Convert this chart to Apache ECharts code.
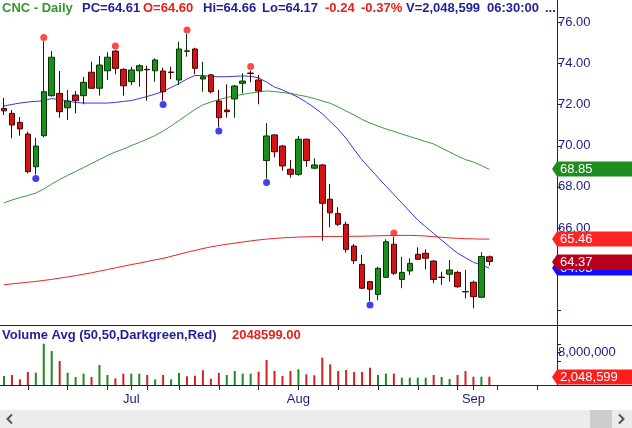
<!DOCTYPE html>
<html><head><meta charset="utf-8">
<script src="https://cdn.jsdelivr.net/npm/echarts@6/dist/echarts.min.js"></script>
<style>html,body{margin:0;padding:0;background:#fff;}#c{width:632px;height:428px;}</style>
</head><body><div id="c"></div>
<script>
// ---------- data ----------
const dates = [
 '2021-06-09','2021-06-10','2021-06-11','2021-06-14','2021-06-15','2021-06-16','2021-06-17','2021-06-18','2021-06-21','2021-06-22',
 '2021-06-23','2021-06-24','2021-06-25','2021-06-28','2021-06-29','2021-06-30','2021-07-01','2021-07-02','2021-07-06','2021-07-07',
 '2021-07-08','2021-07-09','2021-07-12','2021-07-13','2021-07-14','2021-07-15','2021-07-16','2021-07-19','2021-07-20','2021-07-21',
 '2021-07-22','2021-07-23','2021-07-26','2021-07-27','2021-07-28','2021-07-29','2021-07-30','2021-08-02','2021-08-03','2021-08-04',
 '2021-08-05','2021-08-06','2021-08-09','2021-08-10','2021-08-11','2021-08-12','2021-08-13','2021-08-16','2021-08-17','2021-08-18',
 '2021-08-19','2021-08-20','2021-08-23','2021-08-24','2021-08-25','2021-08-26','2021-08-27','2021-08-30','2021-08-31','2021-09-01',
 '2021-09-02','2021-09-03','2021-09-06','2021-09-07','2021-09-08','2021-09-09','2021-09-10','2021-09-13','2021-09-14','2021-09-15'
];
const opens = [71.82,71.58,71.14,70.57,68.98,70.49,72.44,72.55,71.85,72.47,
 72.44,73.58,72.80,73.65,74.61,73.72,73.12,73.65,73.72,73.65,
 73.64,73.59,73.20,74.60,74.71,73.25,73.45,72.18,71.74,72.28,
 73.04,73.54,73.20,69.28,70.53,69.99,68.86,68.61,70.32,68.91,
 69.07,67.40,66.71,66.18,65.12,64.23,63.39,62.77,63.60,65.21,
 63.50,63.91,64.72,64.77,64.39,63.61,63.75,63.84,62.89,63.36,
 62.63,64.60];
const highs = [72.33,71.74,71.40,70.69,70.39,75.08,74.61,73.64,72.72,72.67,
 73.36,74.09,74.37,74.55,74.66,73.77,73.85,73.97,73.90,74.26,
 73.80,73.85,75.07,75.44,74.77,74.09,73.50,72.72,72.99,72.96,
 73.53,73.66,73.45,71.10,70.55,70.04,69.31,70.48,70.35,69.39,
 69.10,68.14,67.01,66.31,65.22,64.69,63.42,64.12,65.45,65.56,
 64.60,64.53,65.06,64.96,64.44,63.87,64.44,63.91,63.96,63.44,
 64.82,64.66];
const lows = [71.50,70.37,70.49,68.66,68.60,70.42,72.39,71.37,71.26,71.58,
 72.02,72.78,72.44,73.20,73.48,72.44,72.95,72.88,72.20,73.12,
 72.20,73.24,72.96,74.34,73.48,72.63,72.55,70.91,71.37,71.37,
 72.55,73.09,72.02,68.41,69.44,68.79,68.45,68.54,68.98,68.86,
 65.38,66.03,66.10,64.80,64.25,63.02,62.45,62.48,63.58,63.71,
 63.07,63.71,64.45,63.99,63.31,63.23,63.39,63.09,62.58,62.09,
 62.60,64.17];
const closes = [71.70,71.01,70.82,68.74,69.99,72.63,74.31,71.66,72.18,72.20,
 73.09,72.80,73.93,74.31,73.77,72.92,73.69,73.90,73.70,74.18,
 72.63,73.57,74.71,74.62,73.77,73.36,72.63,71.37,71.66,72.91,
 73.15,73.52,72.67,70.48,69.71,69.02,68.61,70.32,69.28,69.07,
 67.20,66.74,66.18,64.96,64.41,63.07,63.02,64.04,65.33,63.80,
 63.84,64.28,64.48,64.53,63.50,63.59,63.96,63.14,62.91,62.66,
 64.61,64.37];
const volumes = [2230000,2480000,1410000,3220000,3040000,10220000,8420000,5940000,3040000,1980000,
 2800000,1980000,4950000,2480000,1660000,2800000,2800000,2800000,2480000,1410000,
 2480000,1410000,2970000,2150000,2300000,3640000,1560000,2970000,2480000,3470000,
 2800000,2800000,3290000,6190000,3470000,2230000,3470000,3890000,2650000,2400000,
 6760000,5120000,3470000,3710000,3220000,3220000,4280000,2480000,2800000,2800000,
 1810000,1810000,1810000,1810000,2480000,1980000,1490000,2480000,3470000,2050000,
 2050000,2048599];
const ma20 = [71.94,72.01,72.08,72.13,72.16,72.20,72.30,72.25,72.18,72.11,
 72.08,72.08,72.08,72.08,72.11,72.16,72.20,72.30,72.40,72.52,
 72.64,72.84,73.03,73.25,73.42,73.42,73.37,73.36,73.36,73.38,
 73.40,73.38,73.31,73.10,72.86,72.72,72.54,72.36,72.12,71.86,
 71.56,71.18,70.81,70.36,69.83,69.31,68.89,68.46,68.04,67.63,
 67.22,66.80,66.39,66.06,65.73,65.41,65.09,64.78,64.55,64.33,
 64.19,64.05];
const ma50 = [67.22,67.36,67.48,67.58,67.70,67.90,68.14,68.36,68.56,68.75,
 68.94,69.14,69.33,69.53,69.70,69.84,70.01,70.16,70.33,70.50,
 70.72,70.96,71.23,71.50,71.77,71.99,72.13,72.25,72.35,72.44,
 72.50,72.57,72.62,72.67,72.64,72.59,72.55,72.47,72.40,72.30,
 72.18,72.07,71.89,71.69,71.50,71.28,71.11,70.96,70.82,70.70,
 70.57,70.45,70.33,70.21,70.09,69.89,69.70,69.50,69.33,69.21,
 69.04,68.85];
const ma200 = [63.24,63.28,63.32,63.36,63.40,63.45,63.50,63.56,63.62,63.68,
 63.75,63.82,63.90,63.98,64.06,64.14,64.22,64.29,64.37,64.45,
 64.52,64.62,64.72,64.82,64.91,65.00,65.08,65.15,65.21,65.26,
 65.32,65.37,65.42,65.46,65.49,65.52,65.54,65.56,65.57,65.58,
 65.58,65.59,65.59,65.59,65.60,65.60,65.61,65.62,65.63,65.64,
 65.64,65.64,65.63,65.61,65.58,65.55,65.52,65.50,65.48,65.47,
 65.46,65.46];
const pivotHighIdx = [5,14,23,31,49];
const pivotLowIdx = [4,20,27,33,46];
const priceTicks = [62,64,66,68,70,72,74,76];
const priceLabels = [64,66,68,70,72,74,76];
const volTicks = [6000000,8000000,10000000];
const volLabels = [8000000];
const weekTickIdx = [3,8,13,16,18,22,27,32,37,42,47,52,57,59,62,67];
const monthLabels = {16:'Jul',37:'Aug',59:'Sep'};

// ---------- styles ----------
const NAVY = '#1b1b84';
const FONT = '"Liberation Sans", Arial, sans-serif';
const UP = '#1d8d1d', DOWN = '#d41414';
const UP_B = '#033503', DOWN_B = '#4a0000';

const last = closes.length - 1;
const candleData = opens.map((o, i) => [o, closes[i], lows[i], highs[i]]);
const volData = volumes.map((v, i) => ({
  value: v,
  itemStyle: { color: (i === 0 || closes[i] >= closes[i - 1]) ? '#1f8a1f' : '#d42020' }
}));

const chart = echarts.init(document.getElementById('c'));
chart.setOption({
  animation: false,
  grid: [
    { left: -2, right: 75, top: 0, height: 325 },
    { left: -2, right: 75, top: 325, height: 60 }
  ],
  xAxis: [
    { type: 'category', gridIndex: 0, data: dates, show: false, boundaryGap: true },
    { type: 'category', gridIndex: 1, data: dates, boundaryGap: true,
      axisLine: { show: true, lineStyle: { color: NAVY, width: 1 } },
      axisTick: { show: true, alignWithLabel: true, length: 5,
        interval: (idx) => weekTickIdx.indexOf(idx) >= 0,
        lineStyle: { color: NAVY, width: 1 } },
      axisLabel: { show: true, margin: 8, color: NAVY, fontFamily: FONT, fontSize: 13,
        interval: (idx) => monthLabels[idx] !== undefined,
        formatter: (v, idx) => monthLabels[idx] || '' }
    }
  ],
  yAxis: [
    { type: 'value', gridIndex: 0, position: 'right', min: 61.28, max: 77.095,
      splitLine: { show: false },
      axisLine: { show: true, lineStyle: { color: NAVY, width: 1 } },
      axisTick: { show: true, length: 4, customValues: priceTicks, lineStyle: { color: NAVY } },
      axisLabel: { show: true, margin: 1, customValues: priceLabels, color: NAVY,
        fontFamily: FONT, fontSize: 13, formatter: (v) => v.toFixed(2) } },
    { type: 'value', gridIndex: 1, position: 'right', min: 0, max: 14850000,
      splitLine: { show: false },
      axisLine: { show: true, lineStyle: { color: NAVY, width: 1 } },
      axisTick: { show: true, length: 4, customValues: volTicks, lineStyle: { color: NAVY } },
      axisLabel: { show: true, margin: 1, customValues: volLabels, color: NAVY,
        fontFamily: FONT, fontSize: 13, formatter: (v) => v.toLocaleString('en-US') } }
  ],
  series: [
    { type: 'line', name: 'MA200', xAxisIndex: 0, yAxisIndex: 0, data: ma200, showSymbol: false,
      lineStyle: { color: '#e82424', width: 1 }, z: 3, silent: true },
    { type: 'line', name: 'MA50', xAxisIndex: 0, yAxisIndex: 0, data: ma50, showSymbol: false,
      lineStyle: { color: '#3a9a3a', width: 1 }, z: 3, silent: true },
    { type: 'line', name: 'MA20', xAxisIndex: 0, yAxisIndex: 0, data: ma20, showSymbol: false,
      lineStyle: { color: '#3535e6', width: 1 }, z: 3, silent: true },
    { type: 'candlestick', xAxisIndex: 0, yAxisIndex: 0, data: candleData, barWidth: 6, z: 4,
      itemStyle: { color: UP, color0: DOWN, borderColor: UP_B, borderColor0: DOWN_B, borderWidth: 1 } },
    { type: 'scatter', xAxisIndex: 0, yAxisIndex: 0, symbolSize: 7, symbolOffset: [0, -4], z: 5,
      data: pivotHighIdx.map(i => [i, highs[i]]), itemStyle: { color: '#ff1c1c' } },
    { type: 'scatter', xAxisIndex: 0, yAxisIndex: 0, symbolSize: 7, symbolOffset: [0, 4], z: 5,
      data: pivotLowIdx.map(i => [i, lows[i]]), itemStyle: { color: '#1010ee' } },
    { type: 'bar', xAxisIndex: 1, yAxisIndex: 1, data: volData, barWidth: 2 }
  ]
});

// ---------- overlays (text, borders, value tags) ----------
const g = [];
function txt(text, x, y, fill, opts) {
  g.push({ type: 'text', x: x, y: y, z: 20,
    style: Object.assign({ text: text, fill: fill, font: 'bold 13px ' + FONT, verticalAlign: 'middle' }, opts || {}) });
}
function tag(axisIdx, value, text, fill, z) {
  const y = Math.round(chart.convertToPixel({ yAxisIndex: axisIdx }, value));
  g.push({ type: 'polygon', z: z,
    shape: { points: [[552, y], [557, y - 7.5], [632, y - 7.5], [632, y + 7.5], [557, y + 7.5]] },
    style: { fill: fill } });
  g.push({ type: 'text', x: 560, y: y + 0.5, z: z + 1,
    style: { text: text, fill: '#ffffff', font: '13px ' + FONT, verticalAlign: 'middle' } });
}
const chg = closes[last] - closes[last - 1];
const pct = chg / closes[last - 1] * 100;
const GREEN_T = '#33962f', RED_T = '#e8201c', BLUE_T = '#1f1f99';
txt('CNC - Daily', 2, 8.5, GREEN_T);
txt('PC=' + closes[last - 1].toFixed(2), 82, 8.5, BLUE_T);
txt('O=' + opens[last].toFixed(2), 143, 8.5, RED_T);
txt('Hi=' + highs[last].toFixed(2), 203, 8.5, BLUE_T);
txt('Lo=' + lows[last].toFixed(2), 262, 8.5, BLUE_T);
txt(chg.toFixed(2), 325, 8.5, RED_T);
txt(pct.toFixed(2) + '%', 361, 8.5, RED_T);
txt('V=' + volumes[last].toLocaleString('en-US'), 406, 8.5, BLUE_T);
txt('06:30:00', 487, 8.5, BLUE_T);
txt('...', 545, 8.5, BLUE_T);
txt('Volume Avg (50,50,Darkgreen,Red)', 2, 335.5, BLUE_T);
txt(volumes[last].toFixed(2), 232, 335.5, RED_T);

// panel separators
g.push({ type: 'line', z: 15, shape: { x1: 0, y1: 325.5, x2: 632, y2: 325.5 }, style: { stroke: NAVY, lineWidth: 1 } });
g.push({ type: 'line', z: 15, shape: { x1: 0, y1: 385.5, x2: 632, y2: 385.5 }, style: { stroke: NAVY, lineWidth: 1 } });
// scrollbar
g.push({ type: 'rect', z: 15, shape: { x: 0, y: 410, width: 632, height: 18 }, style: { fill: '#ececec' } });
g.push({ type: 'rect', z: 16, shape: { x: 590, y: 410, width: 22, height: 18 }, style: { fill: '#cdcdcd' } });
g.push({ type: 'polyline', z: 17, shape: { points: [[12, 414.5], [7.5, 419], [12, 423.5]] }, style: { stroke: '#555', lineWidth: 2, fill: null } });
g.push({ type: 'polyline', z: 17, shape: { points: [[619, 414.5], [623.5, 419], [619, 423.5]] }, style: { stroke: '#555', lineWidth: 2, fill: null } });

// value tags
tag(0, ma50[last], ma50[last].toFixed(2), '#1f8c1f', 30);
tag(0, ma20[last], ma20[last].toFixed(2), '#1010ff', 32);
tag(0, closes[last], closes[last].toFixed(2), '#b8001c', 34);
tag(0, ma200[last], ma200[last].toFixed(2), '#ff2424', 36);
tag(1, volumes[last], volumes[last].toLocaleString('en-US'), '#ff1e1e', 38);

chart.setOption({ graphic: g });
</script>
</body></html>
